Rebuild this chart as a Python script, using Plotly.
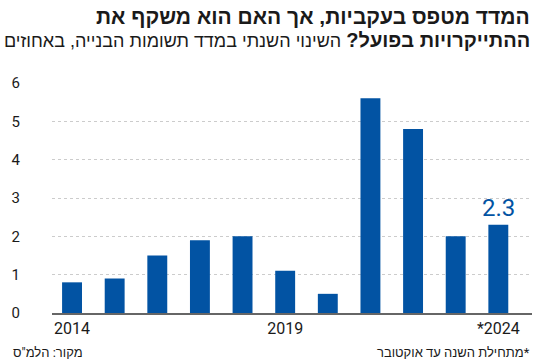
import plotly.graph_objects as go

years = [2014, 2015, 2016, 2017, 2018, 2019, 2020, 2021, 2022, 2023, 2024]
values = [0.8, 0.9, 1.5, 1.9, 2.0, 1.1, 0.5, 5.6, 4.8, 2.0, 2.3]
tick_vals = [2014, 2019, 2024]
tick_text = ["2014", "2019", "*2024"]
y_ticks = [0, 1, 2, 3, 4, 5, 6]

BLUE = "#0253a3"
NARROW = "Liberation Sans Narrow, Roboto, sans-serif"

fig = go.Figure()
fig.add_trace(go.Bar(
    x=years, y=values, width=0.467,
    marker=dict(color=BLUE, line=dict(width=0)),
    hoverinfo="skip",
))

fig.add_annotation(
    x=years[-1], y=values[-1], xref="x", yref="y",
    text="2.3", showarrow=False, yanchor="bottom", yshift=1,
    font=dict(family=NARROW, size=24, color=BLUE),
)

fig.add_annotation(
    x=1, y=1, xref="paper", yref="paper", xanchor="right", yanchor="bottom",
    yshift=53, xshift=0,
    text="<b>המדד מטפס בעקביות, אך האם הוא משקף את</b>",
    showarrow=False, align="right",
    font=dict(family="Liberation Sans, sans-serif", size=21, color="#1a1a1a"),
)
fig.add_annotation(
    x=1, y=1, xref="paper", yref="paper", xanchor="right", yanchor="bottom",
    yshift=30,
    text="<b>ההתייקרויות בפועל?</b><span style='font-size:18px'> השינוי השנתי במדד תשומות הבנייה, באחוזים</span>",
    showarrow=False, align="right",
    font=dict(family="Liberation Sans, sans-serif", size=20, color="#1a1a1a"),
)
fig.add_annotation(
    x=1, y=0, xref="paper", yref="paper", xanchor="right", yanchor="top",
    yshift=-30,
    text="מתחילת השנה עד אוקטובר*",
    showarrow=False, align="right",
    font=dict(family=NARROW, size=13, color="#1a1a1a"),
)
fig.add_annotation(
    x=0, y=0, xref="paper", yref="paper", xanchor="left", yanchor="top",
    xshift=-41, yshift=-30,
    text="מקור: הלמ\"ס",
    showarrow=False, align="left",
    font=dict(family=NARROW, size=13, color="#1a1a1a"),
)

fig.update_layout(
    width=550, height=364,
    margin=dict(l=50, r=18, t=83, b=51),
    paper_bgcolor="white", plot_bgcolor="white",
    showlegend=False,
    xaxis=dict(
        range=[2013.53, 2024.79],
        tickvals=tick_vals, ticktext=tick_text,
        showgrid=False, zeroline=False, ticks="",
        showline=True, linecolor="#666666", linewidth=1.5,
        tickfont=dict(family=NARROW, size=16, color="#1a1a1a"),
        fixedrange=True,
    ),
    yaxis=dict(
        range=[0, 6], tickvals=y_ticks,
        showgrid=True, gridcolor="#cccccc", griddash="dot", gridwidth=1,
        zeroline=False, ticks="", showline=False,
        ticklabelstandoff=31,
        tickfont=dict(family=NARROW, size=15, color="#1a1a1a"),
        fixedrange=True,
    ),
)

fig.write_html("out.html")
